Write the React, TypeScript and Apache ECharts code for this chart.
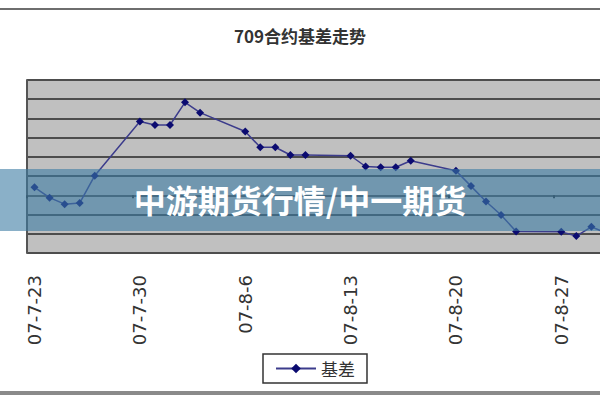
import React, { useEffect, useRef } from 'react';
import * as echarts from 'echarts';

// 交易日（2007年）
const tradeDates = [
  '2007-07-23', '2007-07-24', '2007-07-25', '2007-07-26', '2007-07-27',
  '2007-07-30', '2007-07-31', '2007-08-01', '2007-08-02', '2007-08-03',
  '2007-08-06', '2007-08-07', '2007-08-08', '2007-08-09', '2007-08-10',
  '2007-08-13', '2007-08-14', '2007-08-15', '2007-08-16', '2007-08-17',
  '2007-08-20', '2007-08-21', '2007-08-22', '2007-08-23', '2007-08-24',
  '2007-08-27', '2007-08-28', '2007-08-29', '2007-08-30', '2007-08-31',
];

// 基差
const basis = [
  21, -6, -23, -20, 51,
  192, 183, 183, 242, 215,
  166, 125, 125, 105, 105,
  103, 75, 73, 73, 90,
  64, 24, -16, -51, -94,
  -95, -106, -82, -98, -96,
];

const firstDay = '2007-07-23';
const lastDay = '2007-08-31';

const pad = (n: number) => (n < 10 ? '0' + n : '' + n);
const isoOf = (d: Date) => `${d.getUTCFullYear()}-${pad(d.getUTCMonth() + 1)}-${pad(d.getUTCDate())}`;
const labelOf = (iso: string) => {
  const [y, m, d] = iso.split('-');
  return `${y.slice(2)}-${parseInt(m, 10)}-${parseInt(d, 10)}`;
};

// 日期轴：所有日历日，周末为空
const days: string[] = [];
for (let t = Date.parse(firstDay + 'T00:00:00Z'); t <= Date.parse(lastDay + 'T00:00:00Z'); t += 86400000) {
  days.push(isoOf(new Date(t)));
}
const seriesData = days.map(d => {
  const i = tradeDates.indexOf(d);
  return i >= 0 ? basis[i] : null;
});

const App: React.FC = () => {
  const chartRef = useRef<HTMLDivElement>(null);

  useEffect(() => {
    document.body.style.margin = '0';
    if (!chartRef.current) return;
    const chart = echarts.init(chartRef.current, undefined, { renderer: 'svg' });

    const option = {
      animation: false,
      backgroundColor: '#ffffff',
      title: {
        text: '709合约基差走势',
        left: 'center',
        top: 22,
        textStyle: {
          fontFamily: 'Noto Sans CJK SC',
          fontSize: 17,
          fontWeight: 'bold',
          color: '#333333'
        }
      },
      legend: {
        left: 263,
        top: 354,
        padding: [6, 12],
        borderColor: '#333333',
        borderWidth: 1.5,
        itemWidth: 40,
        itemHeight: 12,
        itemGap: 6,
        textStyle: {
          fontFamily: 'Noto Sans CJK SC',
          fontSize: 17,
          color: '#333333'
        },
        data: ['基差']
      },
      grid: {
        left: 27,
        top: 80,
        right: -29,
        height: 173,
        outerBoundsMode: 'none',
        containLabel: false,
        show: true,
        backgroundColor: '#c0c0c0',
        borderColor: '#9a9a9a',
        borderWidth: 1
      },
      xAxis: {
        type: 'category',
        data: days,
        boundaryGap: true,
        axisLine: { lineStyle: { color: '#555555', width: 2 } },
        axisTick: {
          show: true,
          length: 3,
          interval: (i: number) => i % 7 === 0,
          lineStyle: { color: '#333333', width: 2 }
        },
        axisLabel: {
          rotate: 90,
          margin: 22,
          interval: (i: number) => i % 7 === 0,
          formatter: (v: string) => labelOf(v),
          fontFamily: 'DejaVu Sans',
          fontSize: 18,
          color: '#333333'
        },
        splitLine: { show: false }
      },
      yAxis: {
        type: 'value',
        min: -150,
        max: 300,
        interval: 50,
        axisLine: { show: true, lineStyle: { color: '#555555', width: 2 } },
        axisTick: { show: false },
        axisLabel: { show: false },
        splitLine: { show: true, lineStyle: { color: '#4d4d4d', width: 2 } }
      },
      graphic: [
        {
          type: 'rect',
          left: 0,
          top: 8,
          shape: { width: 600, height: 2 },
          style: { fill: '#6e6e6e' }
        },
        {
          type: 'rect',
          left: 0,
          top: 391,
          shape: { width: 600, height: 4 },
          style: { fill: '#8a8a8a' }
        },
        {
          type: 'rect',
          left: 0,
          top: 169,
          z: 100,
          shape: { width: 600, height: 62 },
          style: { fill: 'rgba(60, 123, 163, 0.6)' }
        },
        {
          type: 'text',
          left: 'center',
          top: 183,
          z: 101,
          style: {
            text: '中游期货行情/中一期货',
            fill: '#ffffff',
            fontFamily: 'Noto Sans CJK SC',
            fontSize: 32,
            fontWeight: 'bold'
          }
        }
      ],
      series: [
        {
          name: '基差',
          type: 'line',
          data: seriesData,
          connectNulls: true,
          symbol: 'diamond',
          symbolSize: 8,
          itemStyle: { color: '#0b0b70' },
          lineStyle: { color: '#3c3c8c', width: 1.5 }
        }
      ]
    };

    chart.setOption(option);
    return () => {
      chart.dispose();
    };
  }, []);

  return (
    <div
      ref={chartRef}
      style={{ position: 'fixed', left: 0, top: 0, width: '600px', height: '400px' }}
    ></div>
  );
};

export default App;
